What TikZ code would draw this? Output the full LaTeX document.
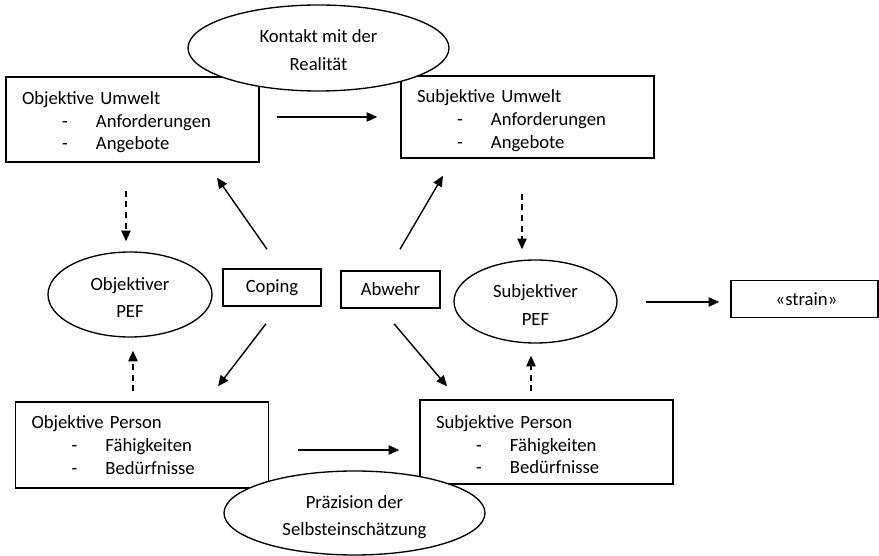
\documentclass[tikz,border=0pt]{standalone}
\usepackage{fontspec}
\setmainfont{Carlito}
\usetikzlibrary{shapes.geometric,arrows.meta}

\newcommand{\spiegelstrich}[1]{\\\hspace*{30pt}\makebox[25.5pt][l]{-}#1}

\tikzset{
  kasten/.style={rectangle, draw, line width=1.1pt, align=left, text width=165.75pt, inner xsep=12pt, minimum height=63pt},
  klein/.style={rectangle, draw, line width=1.1pt, minimum height=27.75pt},
  oval/.style={ellipse, draw, fill=white, line width=1pt, align=center, inner sep=1pt, font=\fontsize{14pt}{20.5pt}\selectfont},
  pfeil/.style={-{Triangle[length=8pt,width=7pt]}, line width=1.05pt},
  gestrichelt/.style={pfeil, dash pattern=on 4.5pt off 3.5pt},
}

\begin{document}
\begin{tikzpicture}[x=0.75pt, y=-0.75pt, every node/.style={font=\fontsize{14pt}{17pt}\selectfont}]
    \useasboundingbox (0,0) rectangle (879,556);

    % Umwelt und Person
    \node[kasten, minimum height=63.75pt] (OU) at (132.5,119.5) {\rule{0pt}{14pt}Objektive Umwelt\spiegelstrich{Anforderungen}\spiegelstrich{Angebote}};
    \node[kasten, minimum height=61.5pt]  (SU) at (527.5,117)   {\rule{0pt}{15pt}Subjektive Umwelt\spiegelstrich{Anforderungen}\spiegelstrich{Angebote}};
    \node[kasten, minimum height=64.5pt]  (OP) at (142,445)     {Objektive Person\spiegelstrich{Fähigkeiten}\spiegelstrich{Bedürfnisse}};
    \node[kasten, minimum height=63pt]    (SP) at (546.5,442)   {\rule{0pt}{14pt}Subjektive Person\spiegelstrich{Fähigkeiten}\spiegelstrich{Bedürfnisse}};

    \node[klein, minimum width=73.5pt]   (coping) at (272,287.5)   {Coping};
    \node[klein, minimum width=74.25pt]  (abwehr) at (390.5,289.5) {Abwehr};
    \node[klein, minimum width=110.25pt] (strain) at (804.5,299)   {\hspace*{3pt}«strain»};

    % Ellipsen
    \node[oval, minimum width=195.75pt, minimum height=64.5pt]  (kontakt)    at (318.5,48)    {\rule{0pt}{13pt}Kontakt mit der\\Realität};
    \node[oval, minimum width=195.75pt, minimum height=63pt]    (praezision) at (354.5,513)   {\rule{0pt}{16pt}Präzision der\\Selbsteinschätzung};
    \node[oval, minimum width=123pt, minimum height=63.75pt]    (OPEF)       at (130,294.5)   {\rule{0pt}{14pt}Objektiver\\PEF};
    \node[oval, minimum width=122.25pt, minimum height=62.25pt] (SPEF)       at (535.5,301.5) {\rule{0pt}{15pt}Subjektiver\\PEF};

    \draw[pfeil] ([shift={(17,-2.5)}]OU.east) -- ([shift={(-23,0)}]SU.west);
    \draw[pfeil] ([shift={(29,5)}]OP.east) -- ([shift={(-20,8)}]SP.west);
    \draw[pfeil] ([shift={(28,0.5)}]SPEF.east) -- ([shift={(-11,3)}]strain.west);

    \draw[pfeil] ([shift={(-5,-19)}]coping.north) -- ([shift={(84.5,15)}]OU.south);
    \draw[pfeil] ([shift={(9.5,-21)}]abwehr.north) -- ([shift={(-84.5,17)}]SU.south);
    \draw[pfeil] ([shift={(-6,17)}]coping.south) -- ([shift={(76,-15)}]OP.north);
    \draw[pfeil] ([shift={(3.5,15)}]abwehr.south) -- ([shift={(-99.5,-13)}]SP.north);

    \draw[gestrichelt] ([shift={(-6.5,28)}]OU.south) -- ([shift={(-4,-10)}]OPEF.north);
    \draw[gestrichelt] ([shift={(-5.5,35)}]SU.south) -- ([shift={(-13.5,-10)}]SPEF.north);
    \draw[gestrichelt] ([shift={(-9,-10)}]OP.north) -- ([shift={(3,13)}]OPEF.south);
    \draw[gestrichelt] ([shift={(-15.5,-8)}]SP.north) -- ([shift={(-4.5,12)}]SPEF.south);
\end{tikzpicture}
\end{document}
